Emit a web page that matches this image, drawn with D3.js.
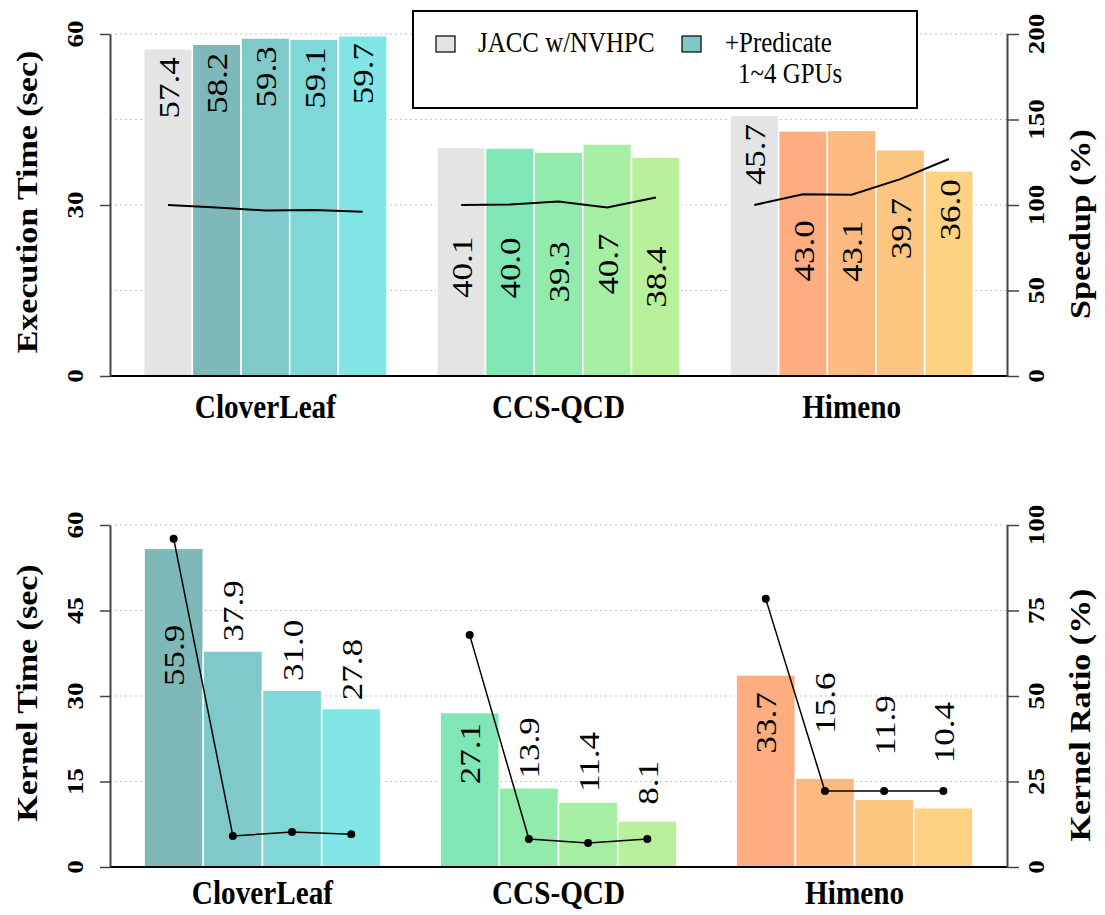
<!DOCTYPE html>
<html>
<head>
<meta charset="utf-8">
<script src="https://cdn.jsdelivr.net/npm/d3@7"></script>
<style>
  body { margin: 0; background: #fff; }
  text { font-family: "Liberation Serif", "Times New Roman", serif; }
</style>
</head>
<body>
<div id="chart"></div>
<script>
// ---- data ----
const apps = ["CloverLeaf", "CCS-QCD", "Himeno"]
const execJacc = [57.4, 40.1, 45.7]
const execPredicate = [
  [58.2, 59.3, 59.1, 59.7],
  [40.0, 39.3, 40.7, 38.4],
  [43.0, 43.1, 39.7, 36.0]
]
const speedup = [
  [100, 98.6, 96.8, 97.1, 96.1],
  [100, 100.3, 102.0, 98.5, 104.4],
  [100, 106.3, 106.0, 115.1, 126.9]
]
const kernelTime = [
  [55.9, 37.9, 31.0, 27.8],
  [27.1, 13.9, 11.4, 8.1],
  [33.7, 15.6, 11.9, 10.4]
]
const kernelRatio = [
  [96.0, 9.1, 10.2, 9.6],
  [67.8, 8.2, 7.0, 8.2],
  [78.4, 22.2, 22.2, 22.2]
]
const legendLabels = ["JACC w/NVHPC", "+Predicate", "1~4 GPUs"]

// ---- style / layout ----
const W = 1105, H = 915
const LEFT = 110, RIGHT = 1007
const SQ = 0.86   // figure is squeezed horizontally
const jaccColor = "#e4e4e4"
const shades = [
  ["#7fb8b8", "#80c9ca", "#80d7d8", "#80e6e6"],
  ["#80e6b5", "#93eaad", "#a6eea3", "#b8f09b"],
  ["#fdad80", "#fdba80", "#fdc680", "#fdd282"]
]
// vertical offset of each value label centre from its bar top (px)
const topLabelDy = [[39, 39, 39, 39, 38], [120, 120, 120, 120, 120], [39, 120, 121, 79, 39]]
const botLabelDy = [[107, -40, -40, -39], [41, -40, -40, -38], [48, -75, -74, -75]]

const svg = d3.select("#chart").append("svg")
  .attr("width", W).attr("height", H)

function vtext(g, x, y, str, size, weight) {
  return g.append("text")
    .attr("transform", `translate(${x},${y}) scale(${SQ},1) rotate(-90)`)
    .attr("text-anchor", "middle")
    .attr("dy", "0.35em")
    .attr("font-size", size)
    .attr("font-weight", weight || "normal")
    .attr("fill", "#000")
    .text(str)
}
function htext(g, x, y, str, size, weight, anchor) {
  return g.append("text")
    .attr("transform", `translate(${x},${y}) scale(${SQ},1)`)
    .attr("text-anchor", anchor || "middle")
    .attr("font-size", size)
    .attr("font-weight", weight || "normal")
    .attr("fill", "#000")
    .text(str)
}

function panel(opts) {
  const g = svg.append("g")
  const y = d3.scaleLinear().domain([0, 60]).range([opts.y0, opts.y0 - 342])
  const yR = d3.scaleLinear().domain([0, opts.rMax]).range([opts.y0, opts.y0 - 342])
  const x = d3.scaleBand().domain(apps).range([LEFT, RIGHT])
    .paddingInner(opts.padIn).paddingOuter(0.115)

  // grid
  g.append("g").selectAll("line").data([15, 30, 45, 60]).join("line")
    .attr("x1", LEFT).attr("x2", RIGHT)
    .attr("y1", d => y(d)).attr("y2", d => y(d))
    .attr("stroke", "#c4c4c4").attr("stroke-width", 1.2)
    .attr("stroke-dasharray", "2,3")

  // bars
  apps.forEach((app, i) => {
    const vals = opts.values[i]
    const cols = opts.colors(i)
    const xi = d3.scaleBand().domain(d3.range(vals.length)).range([x(app), x(app) + x.bandwidth()])
    const gg = g.append("g")
    gg.selectAll("rect").data(vals).join("rect")
      .attr("x", (d, j) => xi(j))
      .attr("y", d => y(d))
      .attr("width", xi.bandwidth())
      .attr("height", d => y(0) - y(d))
      .attr("fill", (d, j) => cols[j])
      .attr("stroke", "#fff").attr("stroke-width", 1.5)

    vals.forEach((v, j) => {
      vtext(gg, xi(j) + xi.bandwidth() / 2, y(v) + opts.labelDy[i][j], v.toFixed(1), 35)
    })

    const line = d3.line()
      .x((d, j) => xi(j) + xi.bandwidth() / 2)
      .y(d => yR(d))
    gg.append("path").datum(opts.line[i])
      .attr("d", line)
      .attr("fill", "none").attr("stroke", "#000")
      .attr("stroke-width", opts.dots ? 1.5 : 2)
    if (opts.dots) {
      gg.selectAll("circle").data(opts.line[i]).join("circle")
        .attr("cx", (d, j) => xi(j) + xi.bandwidth() / 2)
        .attr("cy", d => yR(d))
        .attr("r", 4).attr("fill", "#000")
    }

    htext(g, x(app) + x.bandwidth() / 2, opts.y0 + opts.catDy, app, 34, "bold")
  })

  // baseline
  g.append("line").attr("x1", LEFT).attr("x2", RIGHT)
    .attr("y1", opts.y0).attr("y2", opts.y0)
    .attr("stroke", "#000").attr("stroke-width", 2)

  // left axis
  const la = g.append("g").attr("transform", `translate(${LEFT},0)`)
    .call(d3.axisLeft(y).tickValues(opts.leftTicks).tickSize(10).tickSizeOuter(0))
  la.select(".domain").attr("stroke", "#444").attr("stroke-width", 2)
  la.selectAll(".tick line").attr("stroke", "#444").attr("stroke-width", 1.5)
  la.selectAll(".tick text").remove()
  opts.leftTicks.forEach(t => vtext(g, LEFT - 35, y(t), t, 27, "bold"))

  // right axis
  const ra = g.append("g").attr("transform", `translate(${RIGHT},0)`)
    .call(d3.axisRight(yR).tickValues(opts.rightTicks).tickSize(12).tickSizeOuter(0))
  ra.select(".domain").attr("stroke", "#444").attr("stroke-width", 2)
  ra.selectAll(".tick line").attr("stroke", "#444").attr("stroke-width", 1.5)
  ra.selectAll(".tick text").remove()
  opts.rightTicks.forEach(t => vtext(g, RIGHT + 29, yR(t), t, 27, "bold"))

  // titles
  vtext(g, 27, opts.y0 - 174, opts.leftTitle, 34, "bold")
  vtext(g, 1080, opts.y0 - 152, opts.rightTitle, 34, "bold")
}

panel({
  y0: 376, rMax: 200, padIn: 0.17, catDy: 42,
  values: apps.map((a, i) => [execJacc[i]].concat(execPredicate[i])),
  colors: i => [jaccColor].concat(shades[i]),
  labelDy: topLabelDy,
  line: speedup, dots: false,
  leftTicks: [0, 30, 60], rightTicks: [0, 50, 100, 150, 200],
  leftTitle: "Execution Time (sec)", rightTitle: "Speedup (%)"
})

panel({
  y0: 867, rMax: 100, padIn: 0.2, catDy: 37,
  values: kernelTime,
  colors: i => shades[i],
  labelDy: botLabelDy,
  line: kernelRatio, dots: true,
  leftTicks: [0, 15, 30, 45, 60], rightTicks: [0, 25, 50, 75, 100],
  leftTitle: "Kernel Time (sec)", rightTitle: "Kernel Ratio (%)"
})

// legend
const lg = svg.append("g")
lg.append("rect").attr("x", 413).attr("y", 11).attr("width", 504).attr("height", 97)
  .attr("fill", "#fff").attr("stroke", "#000").attr("stroke-width", 2)
lg.append("rect").attr("x", 436).attr("y", 36).attr("width", 19).attr("height", 16)
  .attr("fill", jaccColor).attr("stroke", "#000").attr("stroke-width", 1.2)
lg.append("rect").attr("x", 682).attr("y", 36).attr("width", 19).attr("height", 16)
  .attr("fill", "#80c8c8").attr("stroke", "#000").attr("stroke-width", 1.2)
htext(lg, 478, 52, legendLabels[0], 29, "normal", "start")
htext(lg, 725, 52, legendLabels[1], 29, "normal", "start")
htext(lg, 738, 83, legendLabels[2], 29, "normal", "start")
</script>
</body>
</html>
